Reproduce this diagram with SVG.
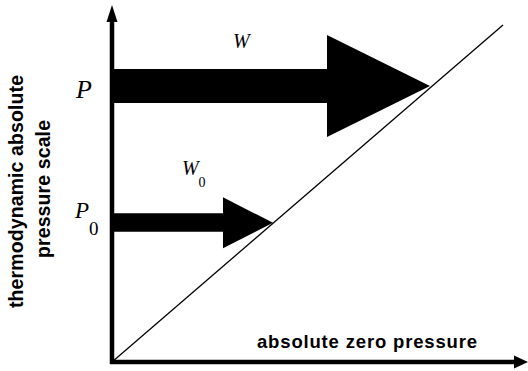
<svg xmlns="http://www.w3.org/2000/svg" width="528" height="371" viewBox="0 0 528 371">
  <style>
    .sym { font-style: italic; fill: #000; }
    .num { fill: #000; }
    .lbl { font-weight: bold; fill: #000; }
    .axis { stroke: #000; stroke-width: 4.5; fill: none; }
    .arrow { fill: #000; stroke: none; }
  </style>
  <rect width="528" height="371" fill="#fff"/>
  <g id="connectors">
    <line id="diagonal" x1="112" y1="362" x2="503" y2="25" stroke="#000" stroke-width="1.3"/>
    <g id="y-axis">
      <line class="axis" x1="112" y1="364" x2="112" y2="18"/>
      <polygon class="arrow" points="112,5 106.5,22 117.5,22"/>
    </g>
    <g id="x-axis">
      <line class="axis" x1="110" y1="362" x2="516" y2="362"/>
      <polygon class="arrow" points="528,362 514,355.5 514,368.5"/>
    </g>
  </g>
  <g id="arrow-W">
    <polygon class="arrow" points="114,69 327,69 327,35 430,86 327,137 327,103 114,103"/>
    <text class="sym" font-family="Liberation Serif, Times New Roman, DejaVu Serif, serif" x="233" y="48" font-size="20">W</text>
  </g>
  <g id="arrow-W0">
    <polygon class="arrow" points="114,213.3 223,213.3 223,197.3 273,222.8 223,248.3 223,231.7 114,231.7"/>
    <text class="sym" font-family="Liberation Serif, Times New Roman, DejaVu Serif, serif" x="182" y="175" font-size="20">W</text>
    <text class="num" font-family="Liberation Serif, Times New Roman, DejaVu Serif, serif" x="198.5" y="187" font-size="14">0</text>
  </g>
  <g id="label-P">
    <text class="sym" font-family="Liberation Serif, Times New Roman, DejaVu Serif, serif" x="76" y="98" font-size="26">P</text>
  </g>
  <g id="label-P0">
    <text class="sym" font-family="Liberation Serif, Times New Roman, DejaVu Serif, serif" x="75" y="218" font-size="23">P</text>
    <text class="num" font-family="Liberation Serif, Times New Roman, DejaVu Serif, serif" x="89" y="235" font-size="19">0</text>
  </g>
  <g id="y-label">
    <text class="lbl" font-family="Liberation Sans, Arial, Helvetica, sans-serif" font-size="19.5" text-anchor="middle" transform="translate(23,191.5) rotate(-90)" textLength="233" lengthAdjust="spacing">thermodynamic absolute</text>
    <text class="lbl" font-family="Liberation Sans, Arial, Helvetica, sans-serif" font-size="19.5" text-anchor="middle" transform="translate(50,189) rotate(-90)" textLength="138" lengthAdjust="spacing">pressure scale</text>
  </g>
  <g id="x-label">
    <text class="lbl" font-family="Liberation Sans, Arial, Helvetica, sans-serif" x="257" y="348" font-size="18.5" textLength="220" lengthAdjust="spacing">absolute zero pressure</text>
  </g>
</svg>
